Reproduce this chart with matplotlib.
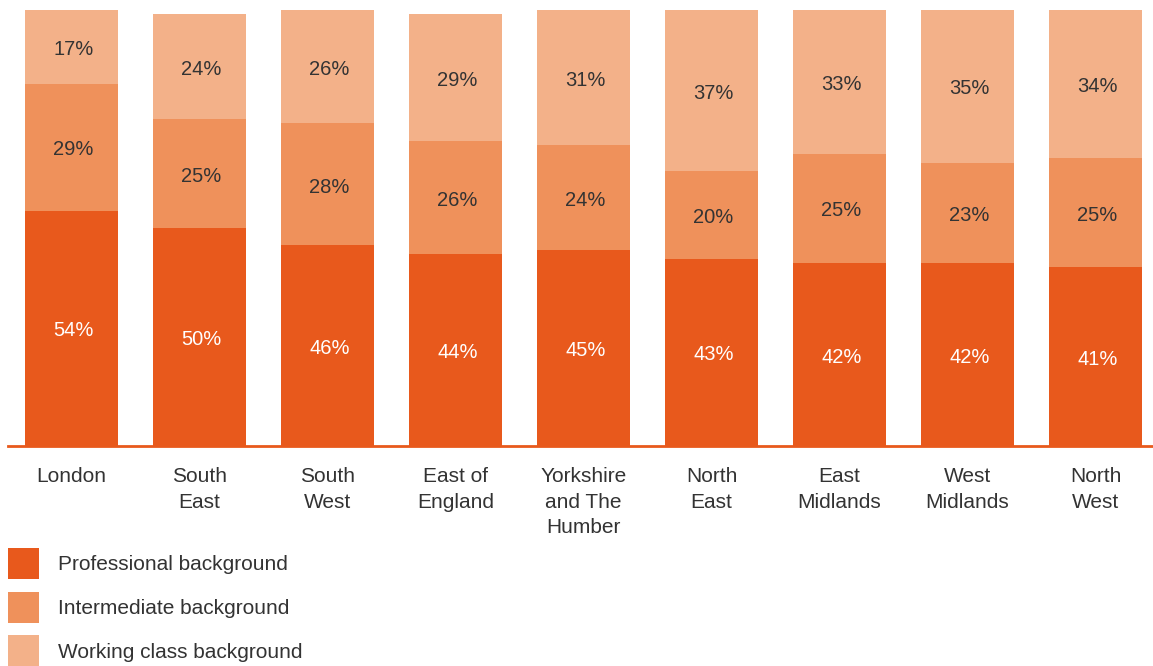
import matplotlib
matplotlib.use("Agg")
import matplotlib.pyplot as plt
from matplotlib.patches import Rectangle

plt.rcParams['font.family'] = ['Liberation Sans', 'DejaVu Sans']

regions = ['London', 'South\nEast', 'South\nWest', 'East of\nEngland',
           'Yorkshire\nand The\nHumber', 'North\nEast', 'East\nMidlands',
           'West\nMidlands', 'North\nWest']
professional = [54, 50, 46, 44, 45, 43, 42, 42, 41]
intermediate = [29, 25, 28, 26, 24, 20, 25, 23, 25]
working = [17, 24, 26, 29, 31, 37, 33, 35, 34]

series = ['Professional background', 'Intermediate background', 'Working class background']
colors = ['#E8591C', '#EF915B', '#F3B189']
text_colors = ['white', '#333333', '#333333']

W, H = 1153, 666
fig = plt.figure(figsize=(W / 100, H / 100), dpi=100)
ax = fig.add_axes([8 / W, (H - 446) / H, 1145 / W, 436 / H])

x = range(len(regions))
bottom = [0] * len(regions)
for vals, col, tc in zip([professional, intermediate, working], colors, text_colors):
    ax.bar(x, vals, bottom=bottom, width=0.727, color=col, linewidth=0)
    for xi, v, b in zip(x, vals, bottom):
        ax.text(xi + 0.015, b + v / 2 - 0.6, f'{v}%', ha='center', va='center',
                fontsize=14.5, color=tc)
    bottom = [b + v for b, v in zip(bottom, vals)]

ax.set_xlim(-0.496, 8.449)
ax.set_ylim(0, 100)
for s in ['top', 'right', 'left']:
    ax.spines[s].set_visible(False)
ax.spines['bottom'].set_color('#E8591C')
ax.spines['bottom'].set_linewidth(2)
ax.set_yticks([])
ax.set_xticks(list(x))
ax.set_xticklabels(regions, fontsize=15, color='#333333', linespacing=1.45)
ax.tick_params(axis='x', length=0, pad=15)
for lbl in ax.get_xticklabels():
    lbl.set_va('top')

# legend
for i, (name, col) in enumerate(zip(series, colors)):
    y0 = 548 + i * 43.5
    fig.add_artist(Rectangle((8 / W, (H - y0 - 31) / H), 31 / W, 31 / H,
                             transform=fig.transFigure, color=col, linewidth=0))
    fig.text(58 / W, (H - y0 - 17) / H, name, fontsize=15, color='#333333',
             va='center', ha='left')

fig.savefig('out.png', dpi=100)
